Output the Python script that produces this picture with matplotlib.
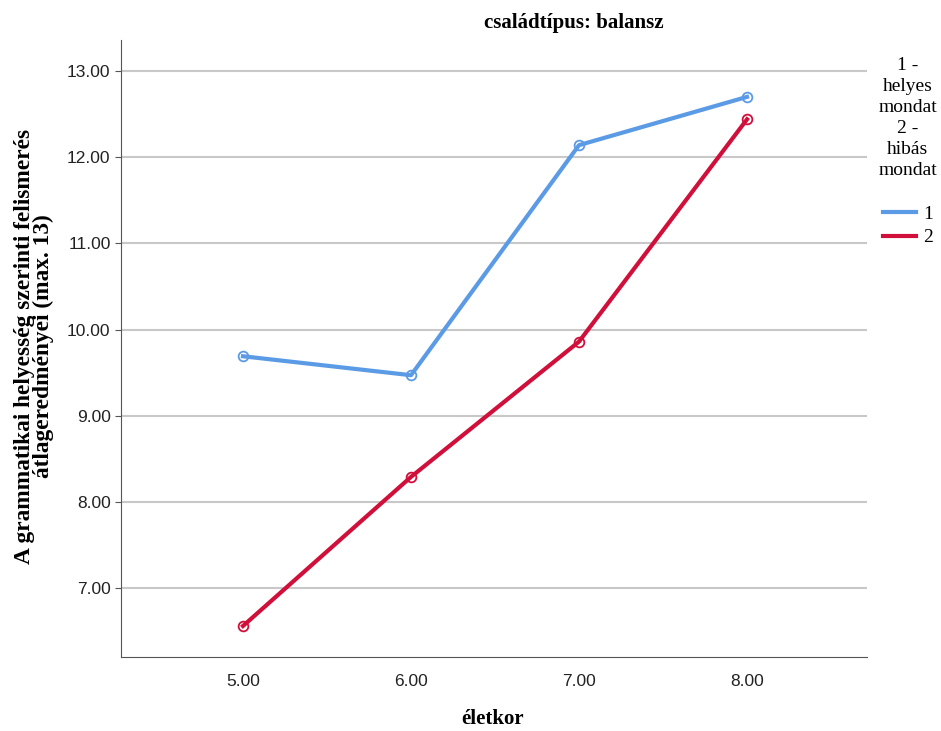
import matplotlib
matplotlib.use("Agg")
import matplotlib.pyplot as plt

ages = [5.0, 6.0, 7.0, 8.0]
series_1 = [9.69, 9.47, 12.14, 12.70]
series_2 = [6.56, 8.29, 9.86, 12.44]
y_ticks = [7.0, 8.0, 9.0, 10.0, 11.0, 12.0, 13.0]
labels = ["1", "2"]
colors = ["#5b9be6", "#d0103a"]

serif = ["Liberation Serif", "DejaVu Serif"]
narrow = ["Liberation Sans Narrow", "Liberation Sans", "DejaVu Sans"]

W, H = 941, 731
fig = plt.figure(figsize=(W/100, H/100), dpi=100)
ax = fig.add_axes([121/W, 1-657/H, (867-121)/W, (657-40)/H])

for vals, c, lab in zip([series_1, series_2], colors, labels):
    ax.plot(ages, vals, color=c, lw=3, label=lab, zorder=3)
    ax.plot(ages, vals, ls="none", marker="o", ms=7, mfc="none", mec=c, mew=1.3, zorder=4)

ax.set_xlim(4.274, 8.714)
ax.set_ylim(6.2, 13.36)
ax.set_xticks(ages)
ax.set_xticklabels([f"{a:.2f}" for a in ages], family=narrow, fontsize=12.5)
ax.set_yticks(y_ticks)
ax.set_yticklabels([f"{v:.2f}" for v in y_ticks], family=narrow, fontsize=12.5)
ax.yaxis.grid(True, color="#c8c8c8", lw=1.5)
ax.set_axisbelow(True)
for s in ["top", "right"]:
    ax.spines[s].set_visible(False)
for s in ["left", "bottom"]:
    ax.spines[s].set_color("#555555")
ax.tick_params(axis="both", colors="#555555", labelcolor="#222222", length=4)
ax.tick_params(axis="x", length=0, pad=12)

fig.text(574/W, 1-23/H, "családtípus: balansz", family=serif, fontweight="bold",
         fontsize=15, ha="center", va="center")
fig.text(493/W, 1-719/H, "életkor", family=serif, fontweight="bold",
         fontsize=15, ha="center", va="center")
fig.text(34/W, 1-346/H, "A grammatikai helyesség szerinti felismerés\nátlageredményei (max. 13)",
         family=serif, fontweight="bold", fontsize=16.8, rotation=90,
         ha="center", va="center", multialignment="center", linespacing=0.92)

handles = [plt.Line2D([], [], color=c, lw=3) for c in colors]
leg = ax.legend(handles, labels, title="1 -\nhelyes\nmondat\n2 -\nhibás\nmondat",
                loc="upper left", bbox_to_anchor=(0.992, 1.0), frameon=False,
                prop={"family": serif, "size": 14}, handlelength=1.7,
                handletextpad=0.4, labelspacing=0.3)
t = leg.get_title()
t.set_family(serif)
t.set_fontsize(14)
t.set_linespacing(1.3)
t.set_multialignment("center")
leg._legend_box.sep = 19
fig.savefig("out.png", dpi=100)
